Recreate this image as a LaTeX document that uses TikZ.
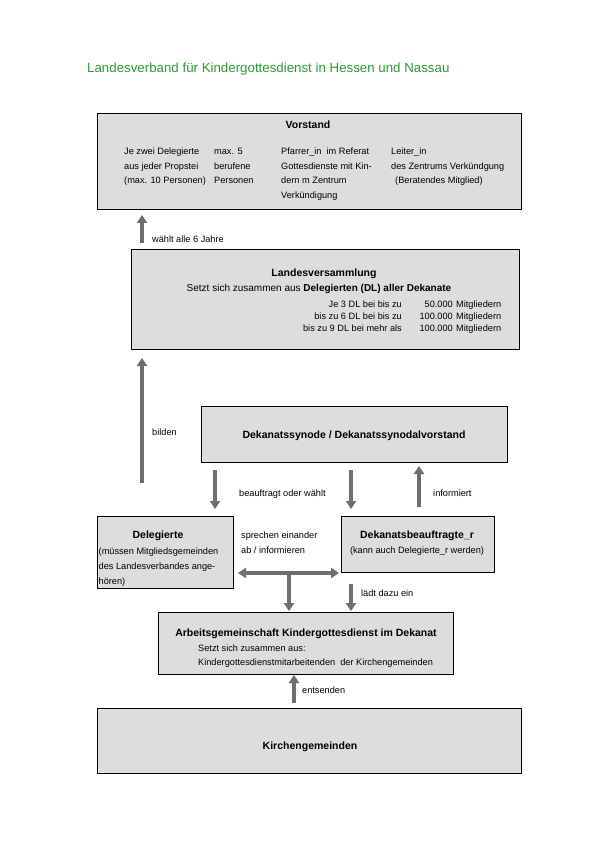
\documentclass[tikz,border=0pt]{standalone}
\usepackage{fontspec}
\setmainfont{Liberation Sans}
\usetikzlibrary{arrows.meta}
\definecolor{boxfill}{RGB}{221,221,221}
\definecolor{arrgray}{RGB}{110,110,110}
\definecolor{titlegreen}{RGB}{45,155,50}
\begin{document}
\begin{tikzpicture}[x=1pt,y=-1pt,
  box/.style={draw=black, line width=1.3pt, fill=boxfill, inner sep=0pt, anchor=north west},
  txt/.style={inner sep=0pt, anchor=base west, font=\fontsize{9.2}{11}\selectfont},
  txtc/.style={inner sep=0pt, anchor=base, font=\fontsize{9.2}{11}\selectfont},
  ttl/.style={inner sep=0pt, anchor=base, font=\fontsize{10.5}{12}\selectfont\bfseries},
  arr/.style={line width=4pt, draw=arrgray, -{Triangle[length=8pt,width=10pt]}},
  darr/.style={line width=4pt, draw=arrgray, {Triangle[length=8pt,width=10pt]}-{Triangle[length=8pt,width=10pt]}},
  ]
\useasboundingbox (0,0) rectangle (595,842);
\fill[white] (0,0) rectangle (595,842);

% title
\node[inner sep=0pt, anchor=base west, font=\fontsize{13.3}{15}\selectfont, text=titlegreen] (title) at (87,73) {Landesverband für Kindergottesdienst in Hessen und Nassau};

% boxes
\node[box, minimum width=424pt, minimum height=96pt] (vorstand) at (97,113) {};
\node[box, minimum width=388pt, minimum height=100pt] (lv) at (131,249) {};
\node[box, minimum width=306pt, minimum height=56pt] (ds) at (201,406) {};
\node[box, minimum width=136pt, minimum height=72pt] (del) at (97,516) {};
\node[box, minimum width=153pt, minimum height=56pt] (db) at (341,516) {};
\node[box, minimum width=295pt, minimum height=62pt] (ag) at (158,612) {};
\node[box, minimum width=424pt, minimum height=65pt] (kg) at (97,708) {};

% Vorstand
\node[ttl] (vt) at (308,129) {Vorstand};
\foreach \t [count=\i] in {Je zwei Delegierte, aus jeder Propstei, (max. 10 Personen)}
  \node[txt] (va\i) at (124,140.5+14.5*\i) {\t};
\foreach \t [count=\i] in {max. 5, berufene, Personen}
  \node[txt] (vb\i) at (214,140.5+14.5*\i) {\t};
\foreach \t [count=\i] in {Pfarrer\_in\ \ im Referat, Gottesdienste mit Kin-, dern m Zentrum, Verkündigung}
  \node[txt] (vc\i) at (281,140.5+14.5*\i) {\t};
\node[txt] (vd1) at (391,155) {Leiter\_in};
\node[txt] (vd2) at (391,169.5) {des Zentrums Verkündgung};
\node[txt] (vd3) at (395,184) {(Beratendes Mitglied)};

% Landesversammlung
\node[ttl] (lvt) at (324,276) {Landesversammlung};
\node[inner sep=0pt, anchor=base, font=\fontsize{10}{12}\selectfont] (lvs) at (319,291) {Setzt sich zusammen aus \textbf{Delegierten (DL) aller Dekanate}};
\node[txt, anchor=base east] (lr1a) at (402,307) {Je 3 DL bei bis zu};
\node[txt, anchor=base east] (lr2a) at (402,319) {bis zu 6 DL bei bis zu};
\node[txt, anchor=base east] (lr3a) at (402,331) {bis zu 9 DL bei mehr als};
\node[txt, anchor=base east] (lr1b) at (453,307) {50.000};
\node[txt, anchor=base east] (lr2b) at (453,319) {100.000};
\node[txt, anchor=base east] (lr3b) at (453,331) {100.000};
\node[txt] (lr1c) at (456,307) {Mitgliedern};
\node[txt] (lr2c) at (456,319) {Mitgliedern};
\node[txt] (lr3c) at (456,331) {Mitgliedern};

% Dekanatssynode
\node[ttl] (dst) at (354,438) {Dekanatssynode / Dekanatssynodalvorstand};

% Delegierte
\node[ttl] (delt) at (158,538) {Delegierte};
\node[txt] (dl1) at (98.5,554) {(müssen Mitgliedsgemeinden};
\node[txt] (dl2) at (98.5,569) {des Landesverbandes ange-};
\node[txt] (dl3) at (98.5,584) {hören)};

% Dekanatsbeauftragte
\node[ttl] (dbt) at (417,538) {Dekanatsbeauftragte\_r};
\node[txtc] (db1) at (417,553) {(kann auch Delegierte\_r werden)};

% sprechen
\node[txt] (sp1) at (241,538) {sprechen einander};
\node[txt] (sp2) at (241,553) {ab / informieren};

% Arbeitsgemeinschaft
\node[ttl] (agt) at (306,636) {Arbeitsgemeinschaft Kindergottesdienst im Dekanat};
\node[txt] (ag1) at (198,651) {Setzt sich zusammen aus:};
\node[txt] (ag2) at (198,665.5) {Kindergottesdienstmitarbeitenden\ \ der Kirchengemeinden};

% Kirchengemeinden
\node[ttl] (kgt) at (310,749) {Kirchengemeinden};

% arrow coordinates
\coordinate (w0) at (142,243); \coordinate (w1) at (142,215);
\coordinate (b0) at (142,483); \coordinate (b1) at (142,358);
\coordinate (d0) at (215,470); \coordinate (d1) at (215,509);
\coordinate (e0) at (351,470); \coordinate (e1) at (351,509);
\coordinate (i0) at (419,507); \coordinate (i1) at (419,466);
\coordinate (h0) at (238,573); \coordinate (h1) at (339,573);
\coordinate (v0) at (289,573); \coordinate (v1) at (289,611);
\coordinate (l0) at (351,584); \coordinate (l1) at (351,611);
\coordinate (n0) at (294,703); \coordinate (n1) at (294,675);

\draw[arr] (w0) -- (w1);
\draw[arr] (b0) -- (b1);
\draw[arr] (d0) -- (d1);
\draw[arr] (e0) -- (e1);
\draw[arr] (i0) -- (i1);
\draw[darr] (h0) -- (h1);
\draw[arr] (v0) -- (v1);
\draw[arr] (l0) -- (l1);
\draw[arr] (n0) -- (n1);

% labels
\node[txt] (lw) at (152,242) {wählt alle 6 Jahre};
\node[txt] (lb) at (152,435) {bilden};
\node[txt] (lbe) at (239,496) {beauftragt oder wählt};
\node[txt] (li) at (433,496) {informiert};
\node[txt] (ll) at (361,596) {lädt dazu ein};
\node[txt] (le) at (302,693) {entsenden};
\end{tikzpicture}
\end{document}
